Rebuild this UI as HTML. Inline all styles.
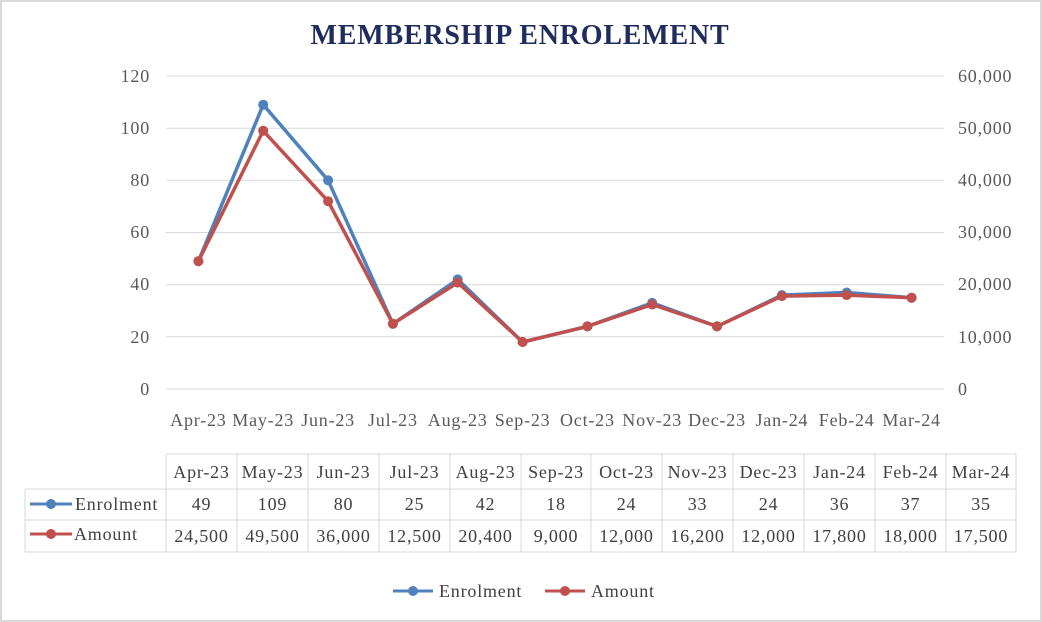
<!DOCTYPE html>
<html><head><style>body{margin:0;background:#fff}svg{display:block}</style></head><body>
<svg width="1042" height="622" xmlns="http://www.w3.org/2000/svg" font-family="Liberation Serif, serif">
<rect x="1" y="1" width="1040" height="620" fill="#fff" stroke="#d9d9d9" stroke-width="2"/>
<text x="520" y="44" text-anchor="middle" font-size="28" font-weight="bold" fill="#1f2d5e" letter-spacing="0.8">MEMBERSHIP ENROLEMENT</text>
<g stroke="#d9d9d9" stroke-width="1">
<line x1="166" x2="944" y1="76" y2="76"/><line x1="166" x2="944" y1="128.2" y2="128.2"/><line x1="166" x2="944" y1="180.3" y2="180.3"/><line x1="166" x2="944" y1="232.5" y2="232.5"/><line x1="166" x2="944" y1="284.7" y2="284.7"/><line x1="166" x2="944" y1="336.8" y2="336.8"/><line x1="166" x2="944" y1="389" y2="389"/>
</g>
<g font-size="18" fill="#595959" text-anchor="end" letter-spacing="0.8">
<text x="150" y="82">120</text><text x="150" y="134">100</text><text x="150" y="186">80</text><text x="150" y="238">60</text><text x="150" y="290">40</text><text x="150" y="343">20</text><text x="150" y="395">0</text>
</g>
<g font-size="18" fill="#595959" text-anchor="start" letter-spacing="0.8">
<text x="958" y="82">60,000</text><text x="958" y="134">50,000</text><text x="958" y="186">40,000</text><text x="958" y="238">30,000</text><text x="958" y="290">20,000</text><text x="958" y="343">10,000</text><text x="958" y="395">0</text>
</g>
<g font-size="18" fill="#595959" text-anchor="middle" letter-spacing="0.8">
<text x="198.4" y="426">Apr-23</text><text x="263.2" y="426">May-23</text><text x="328.1" y="426">Jun-23</text><text x="392.9" y="426">Jul-23</text><text x="457.7" y="426">Aug-23</text><text x="522.6" y="426">Sep-23</text><text x="587.4" y="426">Oct-23</text><text x="652.2" y="426">Nov-23</text><text x="717" y="426">Dec-23</text><text x="781.9" y="426">Jan-24</text><text x="846.7" y="426">Feb-24</text><text x="911.6" y="426">Mar-24</text>
</g>
<polyline fill="none" stroke="#4f81bd" stroke-width="3.5" stroke-linejoin="round" points="198.4,261.2 263.2,104.7 328.1,180.3 392.9,323.8 457.7,279.4 522.6,342 587.4,326.4 652.2,302.9 717,326.4 781.9,295.1 846.7,292.5 911.6,297.7"/>
<g fill="#4f81bd"><circle cx="198.4" cy="261.2" r="5"/><circle cx="263.2" cy="104.7" r="5"/><circle cx="328.1" cy="180.3" r="5"/><circle cx="392.9" cy="323.8" r="5"/><circle cx="457.7" cy="279.4" r="5"/><circle cx="522.6" cy="342" r="5"/><circle cx="587.4" cy="326.4" r="5"/><circle cx="652.2" cy="302.9" r="5"/><circle cx="717" cy="326.4" r="5"/><circle cx="781.9" cy="295.1" r="5"/><circle cx="846.7" cy="292.5" r="5"/><circle cx="911.6" cy="297.7" r="5"/></g>
<polyline fill="none" stroke="#c0504d" stroke-width="3.5" stroke-linejoin="round" points="198.4,261.2 263.2,130.8 328.1,201.2 392.9,323.8 457.7,282.6 522.6,342 587.4,326.4 652.2,304.5 717,326.4 781.9,296.1 846.7,295.1 911.6,297.7"/>
<g fill="#c0504d"><circle cx="198.4" cy="261.2" r="5"/><circle cx="263.2" cy="130.8" r="5"/><circle cx="328.1" cy="201.2" r="5"/><circle cx="392.9" cy="323.8" r="5"/><circle cx="457.7" cy="282.6" r="5"/><circle cx="522.6" cy="342" r="5"/><circle cx="587.4" cy="326.4" r="5"/><circle cx="652.2" cy="304.5" r="5"/><circle cx="717" cy="326.4" r="5"/><circle cx="781.9" cy="296.1" r="5"/><circle cx="846.7" cy="295.1" r="5"/><circle cx="911.6" cy="297.7" r="5"/></g>
<g stroke="#d9d9d9" stroke-width="1" fill="none">
<line x1="166" x2="1016" y1="454" y2="454"/>
<line x1="25" x2="1016" y1="489" y2="489"/>
<line x1="25" x2="1016" y1="520" y2="520"/>
<line x1="25" x2="1016" y1="552" y2="552"/>
<line x1="25" x2="25" y1="489" y2="552"/>
<line x1="166" x2="166" y1="454" y2="552"/><line x1="237" x2="237" y1="454" y2="552"/><line x1="308" x2="308" y1="454" y2="552"/><line x1="379" x2="379" y1="454" y2="552"/><line x1="450" x2="450" y1="454" y2="552"/><line x1="521" x2="521" y1="454" y2="552"/><line x1="591" x2="591" y1="454" y2="552"/><line x1="662" x2="662" y1="454" y2="552"/><line x1="733" x2="733" y1="454" y2="552"/><line x1="804" x2="804" y1="454" y2="552"/><line x1="875" x2="875" y1="454" y2="552"/><line x1="946" x2="946" y1="454" y2="552"/><line x1="1016" x2="1016" y1="454" y2="552"/>
</g>
<g font-size="18" fill="#404040" text-anchor="middle" letter-spacing="0.8">
<text x="201.5" y="478">Apr-23</text><text x="272.5" y="478">May-23</text><text x="343.5" y="478">Jun-23</text><text x="414.5" y="478">Jul-23</text><text x="485.5" y="478">Aug-23</text><text x="556" y="478">Sep-23</text><text x="626.5" y="478">Oct-23</text><text x="697.5" y="478">Nov-23</text><text x="768.5" y="478">Dec-23</text><text x="839.5" y="478">Jan-24</text><text x="910.5" y="478">Feb-24</text><text x="981" y="478">Mar-24</text>
<text x="201.5" y="510">49</text><text x="272.5" y="510">109</text><text x="343.5" y="510">80</text><text x="414.5" y="510">25</text><text x="485.5" y="510">42</text><text x="556" y="510">18</text><text x="626.5" y="510">24</text><text x="697.5" y="510">33</text><text x="768.5" y="510">24</text><text x="839.5" y="510">36</text><text x="910.5" y="510">37</text><text x="981" y="510">35</text>
<text x="201.5" y="542">24,500</text><text x="272.5" y="542">49,500</text><text x="343.5" y="542">36,000</text><text x="414.5" y="542">12,500</text><text x="485.5" y="542">20,400</text><text x="556" y="542">9,000</text><text x="626.5" y="542">12,000</text><text x="697.5" y="542">16,200</text><text x="768.5" y="542">12,000</text><text x="839.5" y="542">17,800</text><text x="910.5" y="542">18,000</text><text x="981" y="542">17,500</text>
</g>
<line x1="30" x2="72" y1="504" y2="504" stroke="#4f81bd" stroke-width="3"/><circle cx="51" cy="504" r="5" fill="#4f81bd"/>
<line x1="30" x2="72" y1="534" y2="534" stroke="#c0504d" stroke-width="3"/><circle cx="51" cy="534" r="5" fill="#c0504d"/>
<g font-size="18" fill="#404040" letter-spacing="0.8"><text x="75" y="510">Enrolment</text><text x="74" y="540">Amount</text></g>
<line x1="393" x2="433" y1="591" y2="591" stroke="#4f81bd" stroke-width="3"/><circle cx="413" cy="591" r="5" fill="#4f81bd"/>
<line x1="545" x2="585" y1="591" y2="591" stroke="#c0504d" stroke-width="3"/><circle cx="565" cy="591" r="5" fill="#c0504d"/>
<g font-size="18" fill="#404040" letter-spacing="0.8"><text x="439" y="597">Enrolment</text><text x="591" y="597">Amount</text></g>
</svg>
</body></html>
